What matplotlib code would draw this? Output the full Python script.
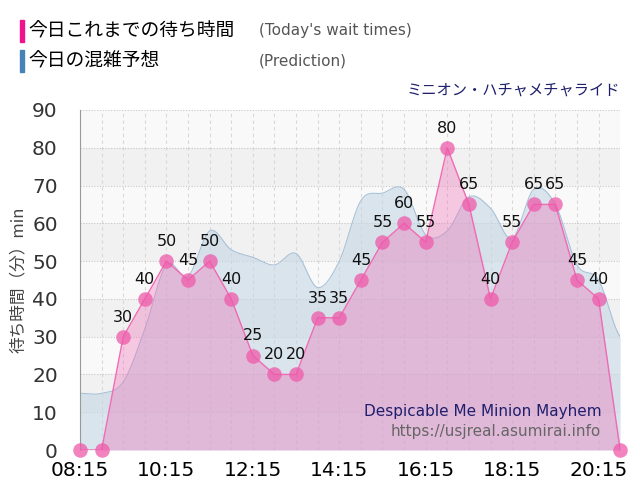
import matplotlib
matplotlib.use("Agg")
import matplotlib.pyplot as plt
from matplotlib.patches import Rectangle
import numpy as np

plt.rcParams['font.family'] = ['DejaVu Sans', 'Noto Sans CJK JP']

# data: one point every 30 minutes from 08:15
start_min = 8 * 60 + 15
wait_times = [0, 0, 30, 40, 50, 45, 50, 40, 25, 20, 20, 35, 35, 45, 55, 60, 55, 80, 65, 40, 55, 65, 65, 45, 40, 0]
prediction = [15, 15, 18, 32, 49, 46, 58, 53, 51, 49, 52, 43, 50, 66, 68, 69, 57, 58, 67, 64, 56, 69, 65, 49, 45, 30]
tick_labels = ["08:15", "10:15", "12:15", "14:15", "16:15", "18:15", "20:15"]

times = [start_min + 30 * i for i in range(len(wait_times))]
tick_pos = [start_min + 120 * i for i in range(len(tick_labels))]

fig = plt.figure(figsize=(6.4, 5), dpi=100)
ax = fig.add_axes([0.125, 0.10, 0.844, 0.68])

# alternating background bands
for lo in range(0, 90, 10):
    c = '#f1f1f1' if (lo // 10) % 2 == 1 else '#f9f9f9'
    ax.axhspan(lo, lo + 10, color=c, zorder=0, lw=0)

for t in times:
    ax.axvline(t, color='#d8d8d8', lw=0.8, ls=(0, (3, 3)), zorder=0.5)
for y in range(0, 91, 10):
    ax.axhline(y, color='#c8c8c8', lw=0.8, ls=(0, (1, 1.5)), zorder=0.5)

# smooth the prediction curve through the read points (cubic hermite)
xs = np.array(times, dtype=float)
ys = np.array(prediction, dtype=float)
fine_x = np.linspace(xs[0], xs[-1], 600)

def smooth(x, y, fx):
    out = []
    n = len(x)
    for v in fx:
        i = min(np.searchsorted(x, v, side='right') - 1, n - 2)
        t = (v - x[i]) / (x[i + 1] - x[i])
        p0 = y[max(i - 1, 0)]
        p1 = y[i]
        p2 = y[i + 1]
        p3 = y[min(i + 2, n - 1)]
        m1 = (p2 - p0) / 2
        m2 = (p3 - p1) / 2
        h00 = 2 * t**3 - 3 * t**2 + 1
        h10 = t**3 - 2 * t**2 + t
        h01 = -2 * t**3 + 3 * t**2
        h11 = t**3 - t**2
        out.append(h00 * p1 + h10 * m1 + h01 * p2 + h11 * m2)
    return np.array(out)

fine_y = smooth(xs, ys, fine_x)
ax.fill_between(fine_x, 0, fine_y, color='#c4d6e4', alpha=0.6, zorder=1, lw=0)
ax.plot(fine_x, fine_y, color='#a9c2d8', lw=0.8, zorder=1.5)

ax.fill_between(times, 0, wait_times, color='#f06ab4', alpha=0.35, zorder=2, lw=0)
ax.plot(times, wait_times, color='#f06ab4', lw=1, zorder=3)
ax.scatter(times, wait_times, s=110, color='#ee5aaa', alpha=0.75, zorder=4, lw=0, clip_on=False)

for t, v in zip(times, wait_times):
    if v > 0:
        ax.text(t, v + 3.2, str(v), ha='center', va='bottom', fontsize=11.5, color='#111111', zorder=5)

ax.set_xlim(start_min, times[-1])
ax.set_ylim(0, 90)
ax.set_xticks(tick_pos)
ax.set_xticklabels(tick_labels, fontsize=14.5)
ax.set_yticks(range(0, 91, 10))
ax.tick_params(axis='y', labelsize=14.5, length=0, pad=16, colors='#333333')
ax.tick_params(axis='x', length=0, pad=8)
for s in ['top', 'right', 'bottom']:
    ax.spines[s].set_visible(False)
ax.spines['left'].set_color('#999999')
ax.spines['left'].set_linewidth(0.8)

ax.set_ylabel('待ち時間（分）min', fontsize=12, color='#444444', family=['Noto Sans CJK JP'], labelpad=4)

# legend-like header
fig.patches.append(Rectangle((20 / 640, 1 - 42 / 500), 4 / 640, 22 / 500, transform=fig.transFigure, color='#f0148c'))
fig.patches.append(Rectangle((20 / 640, 1 - 72 / 500), 4 / 640, 22 / 500, transform=fig.transFigure, color='#4682b4'))
fig.text(28 / 640, 1 - 31 / 500, '今日これまでの待ち時間', fontsize=13.5, va='center', family=['Noto Sans CJK JP'])
fig.text(28 / 640, 1 - 61 / 500, '今日の混雑予想', fontsize=13.5, va='center', family=['Noto Sans CJK JP'])
fig.text(259 / 640, 1 - 31 / 500, "(Today's wait times)", fontsize=11, va='center', color='#555555')
fig.text(259 / 640, 1 - 61 / 500, '(Prediction)', fontsize=11, va='center', color='#555555')
fig.text(620 / 640, 1 - 90 / 500, 'ミニオン・ハチャメチャライド', fontsize=11, ha='right', va='center', color='#1f1f6e', family=['Noto Sans CJK JP'])

ax.text(0.965, 0.112, 'Despicable Me Minion Mayhem', transform=ax.transAxes, ha='right', va='center', fontsize=11, color='#1f1f6e')
ax.text(0.965, 0.055, 'https://usjreal.asumirai.info', transform=ax.transAxes, ha='right', va='center', fontsize=11, color='#666666')

fig.savefig('out.png', dpi=100)
